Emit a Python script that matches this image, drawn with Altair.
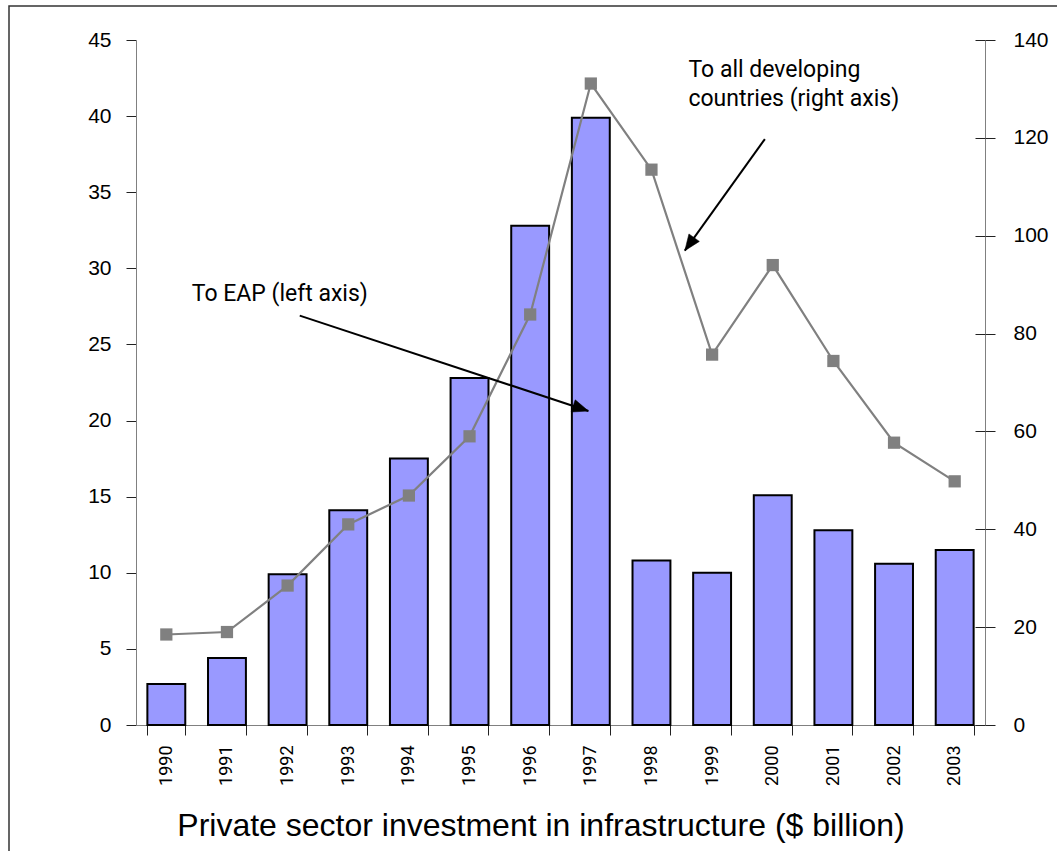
import altair as alt
import pandas as pd

# Yearly private investment in infrastructure, $ billion
years = [str(y) for y in range(1990, 2004)]
eap = [2.7, 4.4, 9.9, 14.1, 17.5, 22.8, 32.8, 39.9, 10.8, 10.0, 15.1, 12.8, 10.6, 11.5]
all_dev = [18.5, 19.0, 28.5, 41.0, 46.9, 59.0, 83.9, 131.1, 113.5, 75.7, 94.0, 74.4, 57.7, 49.8]

left_ticks = list(range(0, 46, 5))
right_ticks = list(range(0, 141, 20))

# Callouts, placed in category-index units (x) and left-axis units (y)
note_labels = ["To EAP (left axis)", "To all developing\ncountries (right axis)"]
note_x = [0.92, 9.11]
note_y = [27.87, 42.55]

arrow_x0 = [2.70, 10.37]
arrow_y0 = [26.89, 38.49]
arrow_x1 = [7.46, 9.05]
arrow_y1 = [20.63, 31.16]
arrow_angle = [18.3, 125.6]

FONT = "Liberation Sans"
NARROW = "Roboto"
AXIS_GREY = "#808080"
TICK_DARK = "#222222"

df = pd.DataFrame({"year": years, "eap": eap, "all_dev": all_dev})
notes = pd.DataFrame({"x": note_x, "y": note_y, "label": note_labels})
arrows = pd.DataFrame({"x0": arrow_x0, "y0": arrow_y0, "x1": arrow_x1,
                       "y1": arrow_y1, "angle": arrow_angle})

W, H = 849, 685

# outer frame of the figure
frame = alt.Chart(pd.DataFrame({"k": [0]})).mark_rect(
    fill="transparent", stroke="#333333", strokeWidth=1.5
).encode(
    x=alt.value(-127), x2=alt.value(1300),
    y=alt.value(-34), y2=alt.value(1200),
)

bars = alt.Chart(df).mark_bar(
    fill="#9999FF", stroke="black", strokeWidth=2
).encode(
    x=alt.X("year:N", sort=years,
            scale=alt.Scale(paddingInner=0.375, paddingOuter=0.1875),
            axis=alt.Axis(
                tickBand="extent", tickSize=10, tickColor=TICK_DARK,
                domainColor=AXIS_GREY, labelAngle=270, labelPadding=10,
                labelFont=NARROW, labelFontSize=18, labelColor="black",
                title="Private sector investment in infrastructure ($ billion)",
                titleFont=FONT, titleFontSize=32, titleFontWeight="normal",
                titleColor="black", titleX=404.5, titleY=110,
                titleAlign="center", titleBaseline="alphabetic",
            )),
    y=alt.Y("eap:Q",
            scale=alt.Scale(domain=[0, 45], nice=False),
            axis=alt.Axis(
                values=left_ticks, title=None, grid=False,
                tickSize=10, tickColor=TICK_DARK, domainColor=AXIS_GREY,
                labelPadding=15, labelFont=FONT, labelFontSize=21,
                labelColor="black",
            )),
)

line = alt.Chart(df).mark_line(
    color=AXIS_GREY, strokeWidth=2.2,
    point=alt.OverlayMarkDef(shape="square", size=150, filled=True,
                             fill=AXIS_GREY, color=AXIS_GREY),
).encode(
    x=alt.X("year:N", sort=years, axis=None),
    y=alt.Y("all_dev:Q",
            scale=alt.Scale(domain=[0, 140], nice=False),
            axis=alt.Axis(
                orient="right", values=right_ticks, title=None, grid=False,
                tickSize=10, tickColor=TICK_DARK, domainColor=AXIS_GREY,
                labelPadding=18, labelFont=FONT, labelFontSize=21,
                labelColor="black",
            )),
)

# inner half of the crossing tick marks on the right axis
inner_ticks = alt.Chart(df).mark_point(opacity=0).encode(
    x=alt.X("year:N", sort=years, axis=None),
    y=alt.Y("all_dev:Q",
            scale=alt.Scale(domain=[0, 140], nice=False),
            axis=alt.Axis(
                orient="right", offset=-10, values=right_ticks, title=None,
                grid=False, tickSize=10, tickColor=TICK_DARK, domain=False,
                labels=False,
            )),
)

xs = alt.Scale(domain=[0, 14], nice=False)
ys = alt.Scale(domain=[0, 45], nice=False)

arrow_lines = alt.Chart(arrows).mark_rule(color="black", strokeWidth=2).encode(
    x=alt.X("x0:Q", scale=xs, axis=None),
    y=alt.Y("y0:Q", scale=ys, axis=None),
    x2="x1:Q",
    y2="y1:Q",
)

arrow_heads = alt.Chart(arrows).mark_point(
    shape="M0,0 L-2,-0.8 L-2,0.8 Z", size=256, filled=True,
    fill="black", stroke="black", strokeWidth=0.5, opacity=1,
).encode(
    x=alt.X("x1:Q", scale=xs, axis=None),
    y=alt.Y("y1:Q", scale=ys, axis=None),
    angle=alt.Angle("angle:Q", scale=None),
)

note_text = alt.Chart(notes).mark_text(
    align="left", baseline="alphabetic", font=NARROW, fontSize=23,
    lineHeight=28.7, lineBreak="\n", color="black",
).encode(
    x=alt.X("x:Q", scale=xs, axis=None),
    y=alt.Y("y:Q", scale=ys, axis=None),
    text="label:N",
)

chart = alt.layer(
    frame, bars, line, inner_ticks, arrow_lines, arrow_heads, note_text
).resolve_scale(
    x="independent", y="independent"
).properties(
    width=W, height=H,
    padding={"left": 136, "top": 40, "right": 72, "bottom": 126},
    autosize=alt.AutoSizeParams(type="none"),
    background="white",
).configure_view(stroke=None)

chart.save("out.html", embed_options={"renderer": "svg", "actions": False})
